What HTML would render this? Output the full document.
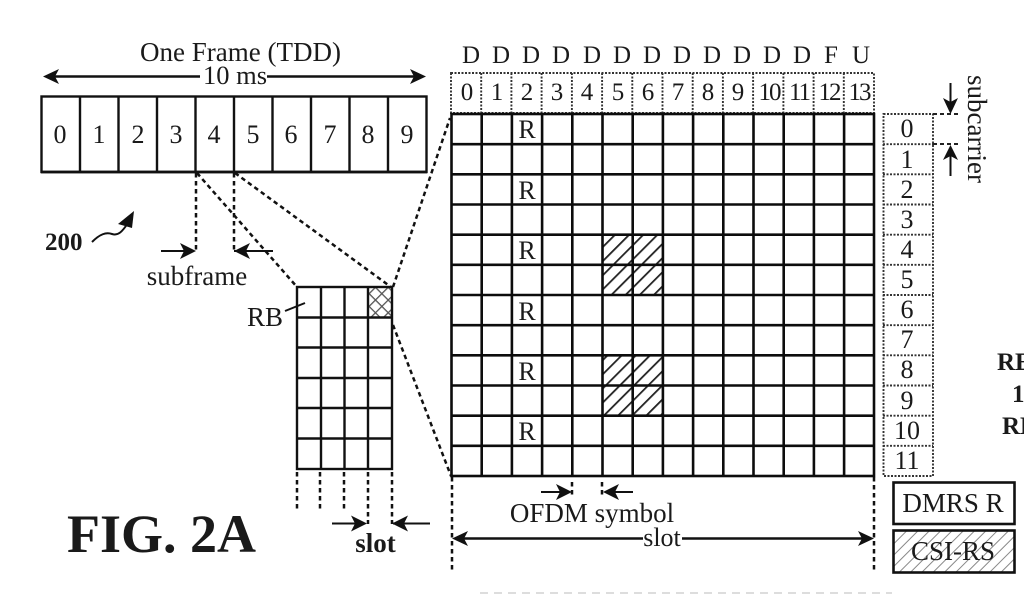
<!DOCTYPE html>
<html>
<head>
<meta charset="utf-8">
<style>
html,body{margin:0;padding:0;background:#fff;width:1024px;height:594px;overflow:hidden}
svg{display:block;filter:blur(0.35px)}
text{font-family:"Liberation Serif",serif;fill:#1a1a1a}
</style>
</head>
<body>
<svg xmlns="http://www.w3.org/2000/svg" width="1024" height="594" viewBox="0 0 1024 594">
<defs>
<pattern id="h" width="10" height="10" patternUnits="userSpaceOnUse" patternTransform="rotate(45)">
<rect width="10" height="10" fill="#fff"/><rect x="0" width="1.8" height="10" fill="#222"/>
</pattern>
<pattern id="h2" width="8" height="8" patternUnits="userSpaceOnUse" patternTransform="rotate(45)">
<rect width="8" height="8" fill="#fff"/><rect x="0" width="1" height="8" fill="#888"/>
</pattern>
<pattern id="x" width="9" height="9" patternUnits="userSpaceOnUse" patternTransform="rotate(45)">
<rect width="9" height="9" fill="#fff"/><rect width="1.3" height="9" fill="#555"/><rect width="9" height="1.3" fill="#555"/>
</pattern>
</defs>

<!-- hatched cells -->
<rect x="602" y="235" width="60.4" height="60.4" fill="url(#h)"/>
<rect x="602" y="356" width="60.4" height="60.4" fill="url(#h)"/>
<rect x="368" y="287" width="24" height="31" fill="url(#x)"/>
<rect x="893" y="530" width="122" height="43" fill="url(#h2)"/>

<!-- frame -->
<g fill="none" stroke="#111" stroke-width="2.400">
<rect x="41.500" y="96.500" width="385" height="75.500"/>
<path d="M80 96V172M118.500 96V172M157 96V172M195.500 96V172M234 96V172M272.500 96V172M311 96V172M349.500 96V172M388 96V172"/>
</g>
<path d="M41 172H427" stroke="#111" stroke-width="2.800"/>
<g font-size="26" text-anchor="middle">
<text x="60" y="143">0</text><text x="99" y="143">1</text><text x="138" y="143">2</text><text x="176" y="143">3</text><text x="214" y="143">4</text><text x="253" y="143">5</text><text x="291" y="143">6</text><text x="330" y="143">7</text><text x="368" y="143">8</text><text x="407" y="143">9</text>
</g>
<text x="240.500" y="61" font-size="27" text-anchor="middle">One Frame (TDD)</text>
<text x="235" y="84" font-size="26.500" text-anchor="middle">10 ms</text>
<path d="M52 76.500H200M267 76.500H416" stroke="#111" stroke-width="2.400"/>
<path d="M43 76.500L59 69L55 76.500L59 84ZM426 76.500L410 69L414 76.500L410 84Z" fill="#111"/>

<!-- header -->
<g fill="none" stroke="#333" stroke-width="1.900" stroke-dasharray="2 1.500">
<rect x="451" y="73" width="423" height="40"/>
<path d="M481.200 73V113M511.400 73V113M541.600 73V113M571.900 73V113M602.100 73V113M632.300 73V113M662.500 73V113M692.700 73V113M722.900 73V113M753.100 73V113M783.400 73V113M813.600 73V113M843.800 73V113"/>
</g>
<g font-size="25" text-anchor="middle">
<text x="471" y="63">D</text><text x="501" y="63">D</text><text x="531" y="63">D</text><text x="561" y="63">D</text><text x="592" y="63">D</text><text x="622" y="63">D</text><text x="652" y="63">D</text><text x="682" y="63">D</text><text x="712" y="63">D</text><text x="742" y="63">D</text><text x="772" y="63">D</text><text x="802" y="63">D</text><text x="831" y="63">F</text><text x="861" y="63">U</text>
</g>
<g font-size="25" text-anchor="middle">
<text x="467" y="100">0</text><text x="497" y="100">1</text><text x="527" y="100">2</text><text x="557" y="100">3</text><text x="587" y="100">4</text><text x="618" y="100">5</text><text x="648" y="100">6</text><text x="678" y="100">7</text><text x="708" y="100">8</text><text x="738" y="100">9</text><text x="769" y="100" letter-spacing="-2">10</text><text x="799" y="100" letter-spacing="-2">11</text><text x="829" y="100" letter-spacing="-2">12</text><text x="859" y="100" letter-spacing="-2">13</text>
</g>

<!-- main grid -->
<g fill="none" stroke="#0c0c0c" stroke-width="2.600">
<rect x="451.500" y="114" width="422.500" height="362"/>
<path d="M481.700 114V476M511.900 114V476M542.100 114V476M572.300 114V476M602.500 114V476M632.700 114V476M662.900 114V476M693.100 114V476M723.300 114V476M753.500 114V476M783.700 114V476M813.900 114V476M844.100 114V476"/>
<path d="M451 144.200H874M451 174.300H874M451 204.500H874M451 234.700H874M451 264.800H874M451 295H874M451 325.200H874M451 355.300H874M451 385.500H874M451 415.700H874M451 445.800H874"/>
</g>
<g font-size="26" text-anchor="middle">
<text x="527" y="138">R</text><text x="527" y="199">R</text><text x="527" y="259">R</text><text x="527" y="320">R</text><text x="527" y="380">R</text><text x="527" y="440">R</text>
</g>

<!-- right list -->
<g fill="none" stroke="#333" stroke-width="1.900" stroke-dasharray="2 1.500">
<rect x="883.500" y="114" width="49.500" height="362"/>
<path d="M883 144.200H933M883 174.300H933M883 204.500H933M883 234.700H933M883 264.800H933M883 295H933M883 325.200H933M883 355.300H933M883 385.500H933M883 415.700H933M883 445.800H933"/>
</g>
<g font-size="26" text-anchor="middle">
<text x="907" y="137">0</text><text x="907" y="168">1</text><text x="907" y="198">2</text><text x="907" y="228">3</text><text x="907" y="258">4</text><text x="907" y="288">5</text><text x="907" y="318">6</text><text x="907" y="348">7</text><text x="907" y="378">8</text><text x="907" y="409">9</text><text x="907" y="439">10</text><text x="907" y="469">11</text>
</g>

<!-- subcarrier -->
<path d="M933 114H961M933 144H961" stroke="#222" stroke-width="2" stroke-dasharray="4 3" fill="none"/>
<path d="M950.500 83V104M950.500 154V176" stroke="#111" stroke-width="2"/>
<path d="M943 98L950.500 114L958 98L950.500 102ZM943 160L950.500 145L958 160L950.500 156Z" fill="#111"/>
<text transform="translate(968,75) rotate(90)" font-size="27">subcarrier</text>

<!-- RE partial -->
<g font-size="25" font-weight="bold">
<text x="997" y="370">RE</text><text x="1012" y="402">1</text><text x="1002" y="434">RE</text>
</g>

<!-- legend -->
<rect x="893.500" y="482.500" width="121" height="41.500" fill="none" stroke="#111" stroke-width="2.600"/>
<rect x="893.500" y="530.500" width="121" height="42" fill="none" stroke="#111" stroke-width="2.600"/>
<text x="953" y="512" font-size="27" text-anchor="middle">DMRS R</text>
<text x="953" y="560" font-size="27" text-anchor="middle">CSI-RS</text>

<!-- small grid -->
<g fill="none" stroke="#111" stroke-width="2.400">
<rect x="297" y="287" width="95" height="182"/>
<path d="M321 287V469M344.500 287V469M368 287V469"/>
<path d="M297 317.500H392M297 347.500H392M297 378H392M297 408H392M297 438.500H392"/>
</g>
<path d="M285 311L305 303" stroke="#111" stroke-width="2"/>
<text x="247" y="326" font-size="27" style="paint-order:stroke">RB</text>

<!-- dashed connectors -->
<g fill="none" stroke="#111" stroke-width="2.500" stroke-dasharray="4.500 3.500">
<path d="M196 173V252M234 173V252"/>
<path d="M197 173L297 287M235 173L391 287"/>
<path d="M393 287L450 118"/>
<path d="M393 325L451 476"/>
<path d="M297 472V509M320 472V510M344 472V512M368 472V524M392 472V524"/>
<path d="M452 477V570M874 477V570"/>
<path d="M572 482V498M602 482V498"/>
</g>

<!-- small arrows -->
<path d="M161 251H186M234 251H273M332 523.500H358M393 523.500H430M541 492H564M611 492H633" stroke="#111" stroke-width="2"/>
<path d="M196 251L180 243L184 251L180 259ZM234 251L250 243L246 251L250 259ZM367 523.500L351 515.500L355 523.500L351 531.500ZM392 523.500L408 515.500L404 523.500L408 531.500ZM572 492L556 484L560 492L556 500ZM603 492L619 484L615 492L619 500Z" fill="#111"/>
<text x="197" y="285" font-size="27" text-anchor="middle">subframe</text>
<text x="375.500" y="552" font-size="27" font-weight="bold" text-anchor="middle">slot</text>
<text x="592" y="522" font-size="27" text-anchor="middle">OFDM symbol</text>
<text x="662" y="546" font-size="26" text-anchor="middle">slot</text>
<path d="M462 538.500H643M682 538.500H864" stroke="#111" stroke-width="2.400"/>
<path d="M452 538.500L468 531L464 538.500L468 546ZM874 538.500L858 531L862 538.500L858 546Z" fill="#111"/>

<!-- 200 -->
<text x="45" y="250" font-size="25" font-weight="bold">200</text>
<path d="M92 242C100 234 106 232 112 234C118 236 122 232 128 223" fill="none" stroke="#111" stroke-width="2"/>
<path d="M134 211L118 224L132 228Z" fill="#111"/>

<!-- FIG -->
<text x="67" y="552" font-size="54" font-weight="bold">FIG. 2A</text>

<!-- faint bottom -->
<path d="M480 593H892" stroke="#ddd" stroke-width="2" stroke-dasharray="8 6"/>
</svg>
</body>
</html>
